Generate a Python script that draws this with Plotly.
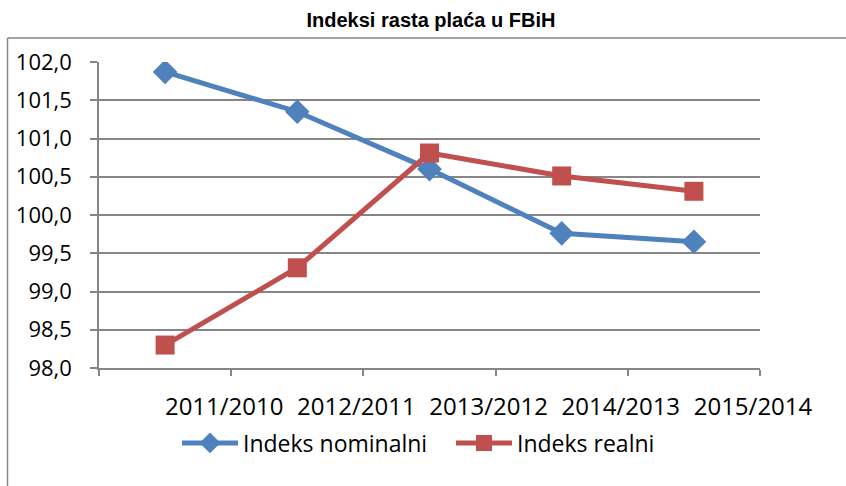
import plotly.graph_objects as go

categories = ["2011/2010", "2012/2011", "2013/2012", "2014/2013", "2015/2014"]
nominal = [101.87, 101.35, 100.60, 99.76, 99.65]
real = [98.30, 99.31, 100.81, 100.51, 100.31]
y_ticks = [98.0, 98.5, 99.0, 99.5, 100.0, 100.5, 101.0, 101.5, 102.0]

xpos = list(range(len(categories)))
blue = "#4F81BD"
red = "#C0504D"
font_family = "Open Sans"

fig = go.Figure()
fig.add_trace(go.Scatter(
    x=xpos, y=nominal, name="Indeks nominalni", mode="lines+markers",
    line=dict(color=blue, width=5),
    marker=dict(symbol="diamond", size=19, color=blue),
))
fig.add_trace(go.Scatter(
    x=xpos, y=real, name="Indeks realni", mode="lines+markers",
    line=dict(color=red, width=5),
    marker=dict(symbol="square", size=19, color=red),
))

W, H = 846, 486
L, R, T, B = 99, 86, 62, 118
pw, ph = W - L - R, H - T - B

def px(x):
    return (x - L) / pw

def py(y):
    return (H - B - y) / ph

fig.update_layout(
    width=W, height=H,
    margin=dict(l=L, r=R, t=T, b=B),
    paper_bgcolor="white", plot_bgcolor="white",
    separators=", ",
    title=dict(text="<b>Indeksi rasta plaća u FBiH</b>", x=px(431), xref="paper",
               xanchor="center", y=1 - 20 / H, yanchor="middle",
               font=dict(family="Liberation Sans", size=20, color="black")),
    showlegend=True,
    legend=dict(orientation="h", x=px(451), xanchor="center", y=py(443), yanchor="middle",
                font=dict(family=font_family, size=23, color="black"),
                itemwidth=56, entrywidth=203, traceorder="normal"),
    font=dict(family=font_family, color="black"),
    shapes=[
        dict(type="line", xref="paper", yref="paper", x0=px(7.5), x1=px(7.5),
             y0=py(486), y1=py(38), line=dict(color="#868686", width=1.5)),
        dict(type="line", xref="paper", yref="paper", x0=px(7.5), x1=px(846),
             y0=py(38), y1=py(38), line=dict(color="#868686", width=1.5)),
    ],
)

fig.update_xaxes(
    range=[-0.5, len(categories) - 0.5],
    tickmode="array",
    tickvals=[i + 0.5 for i in range(-1, len(categories))],
    ticktext=[""] + categories,
    ticks="outside", ticklen=6, tickcolor="#868686", tickwidth=1.5,
    showgrid=False, zeroline=False,
    showline=True, linecolor="#868686", linewidth=1.5,
    tickfont=dict(family=font_family, size=24, color="black"),
    ticklabelstandoff=10,
    ticklabelshift=-7,
)
fig.update_yaxes(
    range=[98.0, 102.0],
    tickmode="array", tickvals=y_ticks,
    tickformat=".1f",
    ticks="outside", ticklen=7, tickcolor="#868686", tickwidth=1.5,
    showgrid=True, gridcolor="#868686", gridwidth=1.5,
    zeroline=False,
    showline=True, linecolor="#868686", linewidth=1.5,
    tickfont=dict(family=font_family, size=22, color="black"),
    ticklabelstandoff=14,
)

fig.write_html("out.html", config={"displayModeBar": False},
               post_script="document.body.style.margin='0';document.body.style.padding='0';")
